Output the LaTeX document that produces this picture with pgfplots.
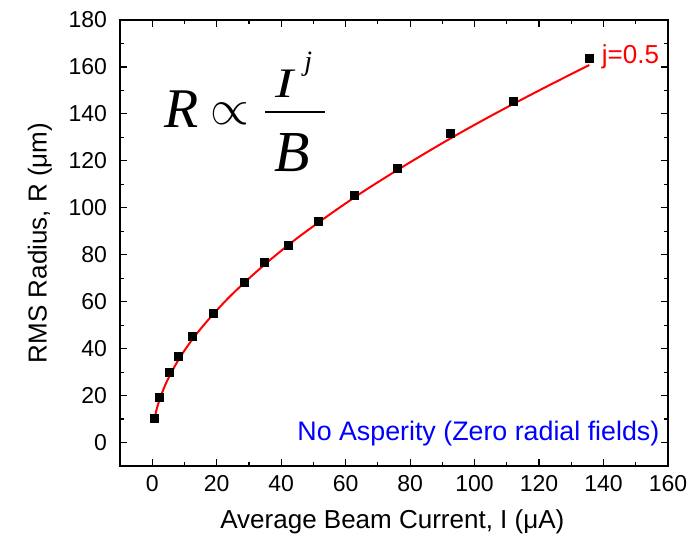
\documentclass[border=0pt]{standalone}
\usepackage{graphicx}
\usepackage{pgfplots}
\pgfplotsset{compat=1.18}
\usepackage{fontspec}
\setmainfont{Liberation Sans}
\newfontfamily\tnr{Liberation Serif}

\begin{document}
\begin{tikzpicture}
\path[use as bounding box] (0,0) rectangle (349.5pt,269.5pt);
\begin{axis}[
    at={(60pt,36.5pt)}, anchor=south west,
    scale only axis,
    width=274pt, height=223pt,
    xmin=-10, xmax=160, ymin=-10, ymax=180,
    xtick={0,20,...,160}, ytick={0,20,...,180},
    minor x tick num=1, minor y tick num=1,
    tick align=inside,
    major tick length=3.5pt, minor tick length=2pt,
    tick style={black, line width=0.6pt},
    axis line style={line width=0.75pt},
    /pgf/number format/assume math mode=true,
    tick label style={font=\fontsize{11.5}{13}\selectfont},
    xticklabel style={yshift=-1pt},
    yticklabel style={xshift=-3pt},
    xlabel={Average Beam Current, I (μA)},
    ylabel={RMS Radius, R (μm)},
    label style={font=\fontsize{13}{15}\selectfont},
    xlabel style={at={(axis description cs:0.497,-0.126)}, anchor=center},
    ylabel style={at={(axis description cs:-0.146,0.5)}, anchor=center},
]
% fitted curve
\addplot[red, line width=1pt, smooth] coordinates {
(0.65,9.8) (1,12.0) (1.5,14.8) (2,17.1) (3,21.0) (4,24.4) (5,27.3)
(6.5,31.3) (8,34.9) (10,39.2) (12.5,44.0) (15,48.4) (19,54.8)
(24,62.1) (30,69.9) (37,78.3) (45,87.1) (55,97.1) (65,106.5)
(75,115.2) (85,123.5) (95,131.5) (105,139.1) (115,146.4)
(125,153.5) (135.6,160.8)
};
% simulation points
\addplot[only marks, mark=square*, mark size=2pt, black] coordinates {
(0.65,10.4) (2.1,19.3) (5.3,29.9) (8.2,36.5) (12.6,45.0) (19.1,55.0)
(28.5,68.2) (34.7,76.6) (42.3,84.0) (51.6,94.0) (62.7,105.4)
(76.1,116.8) (92.4,131.6) (112.0,145.5) (135.6,163.6)
};
\node[red, anchor=west, font=\fontsize{13}{15}\selectfont] at (axis cs:137.3,164.2) {j=0.5};
\node[blue, anchor=east, font=\fontsize{13.4}{15}\selectfont] at (axis cs:159.5,4) {No Asperity (Zero radial fields)};
% formula R ~ I^j / B
\node[font=\fontsize{28}{30}\selectfont\tnr\itshape, inner sep=0pt] at (axis cs:9.1,142.2) {R};
\node[font=\fontsize{26}{28}\selectfont, inner sep=0pt] at (axis cs:24.1,140.2) {$\propto$};
\node[font=\fontsize{21}{23}\selectfont\tnr\itshape, inner sep=0pt] at (axis cs:41.2,153.0) {\scalebox{1.3}[1]{I}};
\node[font=\fontsize{14}{16}\selectfont\tnr\itshape, inner sep=0pt] at (axis cs:48.4,161.3) {j};
\draw[line width=1.2pt] (axis cs:35.0,140.8) -- (axis cs:53.6,140.8);
\node[font=\fontsize{29}{31}\selectfont\tnr\itshape, inner sep=0pt] at (axis cs:43.5,123.5) {B};
\end{axis}
\end{tikzpicture}
\end{document}
